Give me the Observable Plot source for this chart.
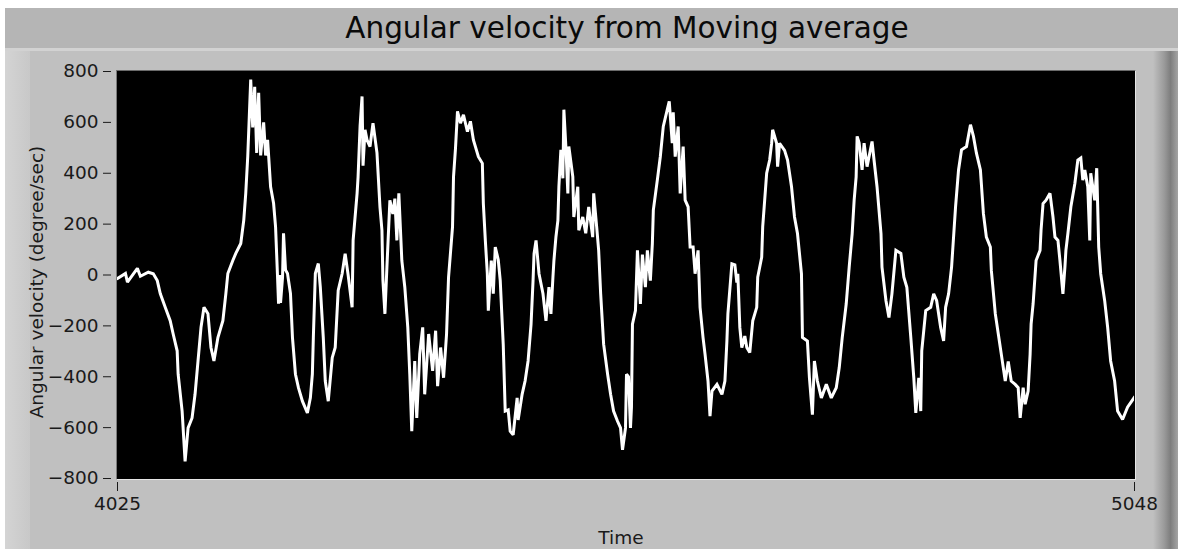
<!DOCTYPE html>
<html>
<head>
<meta charset="utf-8">
<script src="https://cdn.jsdelivr.net/npm/d3@7"></script>
<script src="https://cdn.jsdelivr.net/npm/@observablehq/plot@0.6"></script>
<style>
  html, body { margin: 0; padding: 0; background: #ffffff; }
  #wrap { position: relative; width: 1178px; height: 551px; overflow: hidden; font-family: "DejaVu Sans", sans-serif; }
  .abs { position: absolute; }
  #titlebar { left: 5px; top: 8px; width: 1173px; height: 40px; background: #b5b5b5; }
  #sep { left: 5px; top: 48px; width: 1173px; height: 3px; background: #d2d2d2; }
  #panel { left: 5px; top: 51px; width: 1173px; height: 498px; background: #c0c0c0; }
  #lstrip { left: 5px; top: 51px; width: 25px; height: 498px; background: linear-gradient(to right, #d4d4d4, #c8c8c8); }
  #redge { left: 1153px; top: 51px; width: 25px; height: 498px; background: linear-gradient(to right, #c0c0c0, #9a9a9a 45%, #7e7e7e 70%, #a4a4a4); }
  #well { left: 116px; top: 70px; width: 1018px; height: 408px; background: #000; border-top: 1px solid #6a6a6a; border-left: 1px solid #7a7a7a; border-right: 1px solid #e6e6e6; border-bottom: 1px solid #e6e6e6; box-sizing: content-box; }
  #title { left: 5px; top: 8px; width: 1244px; height: 40px; text-align: center; font-size: 29.5px; line-height: 40px; color: #0a0a0a; white-space: nowrap; }
  #ylabel { left: 36px; top: 282px; font-size: 18.5px; color: #1a1a1a; white-space: nowrap; transform: translate(-50%, -50%) rotate(-90deg); }
  #xlabel { left: 621px; top: 537px; font-size: 18.5px; color: #1a1a1a; white-space: nowrap; transform: translate(-50%, -50%); }
  #chart { left: 0; top: 0; }
</style>
</head>
<body>
<div id="wrap">
  <div class="abs" id="titlebar"></div>
  <div class="abs" id="sep"></div>
  <div class="abs" id="panel"></div>
  <div class="abs" id="lstrip"></div>
  <div class="abs" id="redge"></div>
  <div class="abs" id="well"></div>
  <div class="abs" id="title">Angular velocity from Moving average</div>
  <div class="abs" id="ylabel">Angular velocity (degree/sec)</div>
  <div class="abs" id="xlabel">Time</div>
  <div class="abs" id="chart"></div>
</div>
<script>
const time = [
  4025,4033,4035,4045,4048,4056,4061,4065,4068,4073,4078,4081,4085,4086,4090,4093,4096,4100,4103,4106,
  4109,4112,4116,4119,4122,4126,4131,4134,4136,4141,4144,4149,4152,4154,4156,4159,4161,4163,4165,4167,
  4169,4172,4174,4176,4179,4182,4184,4186,4187,4188,4189,4191,4192,4194,4196,4199,4201,4204,4207,4211,
  4216,4219,4221,4222,4224,4227,4229,4232,4234,4237,4241,4244,4247,4251,4254,4257,4261,4262,4266,4267,
  4269,4271,4272,4274,4276,4279,4282,4286,4289,4291,4292,4294,4296,4299,4302,4304,4306,4308,4311,4314,
  4317,4319,4321,4324,4326,4329,4332,4334,4338,4342,4345,4347,4350,4353,4356,4358,4362,4363,4365,4367,
  4370,4373,4377,4380,4383,4388,4392,4393,4395,4397,4398,4401,4403,4405,4408,4410,4413,4415,4418,4420,
  4423,4427,4428,4432,4435,4438,4441,4443,4444,4446,4449,4453,4456,4459,4461,4463,4464,4466,4468,4469,
  4471,4473,4474,4476,4478,4479,4483,4484,4488,4489,4493,4496,4499,4503,4504,4507,4509,4511,4514,4518,
  4521,4524,4528,4531,4533,4536,4537,4539,4541,4542,4543,4546,4548,4551,4553,4556,4558,4561,4563,4564,
  4568,4571,4574,4578,4580,4583,4584,4586,4589,4591,4594,4596,4599,4601,4604,4606,4609,4611,4614,4616,
  4619,4621,4623,4628,4633,4636,4638,4639,4643,4646,4648,4649,4651,4653,4656,4658,4661,4664,4668,4669,
  4673,4674,4676,4678,4681,4683,4684,4688,4689,4691,4696,4699,4703,4706,4709,4713,4714,4719,4721,4724,
  4726,4729,4733,4738,4743,4748,4751,4754,4758,4761,4764,4766,4768,4769,4771,4774,4776,4779,4784,4786,
  4789,4793,4794,4798,4801,4804,4808,4813,4816,4819,4823,4826,4828,4831,4833,4834,4838,4843,4846,4849,
  4853,4856,4858,4861,4864,4868,4871,4874,4879,4883,4886,4889,4893,4896,4899,4903,4904,4908,4911,4914,
  4918,4921,4924,4928,4931,4933,4936,4938,4941,4943,4944,4946,4949,4953,4954,4956,4959,4963,4966,4968,
  4971,4973,4976,4978,4979,4981,4984,4988,4991,4994,4996,4998,5001,5003,5004,5008,5010,5012,5014,5018,
  5021,5024,5028,5031,5036,5041,5048
];
const velocity = [
  -14,6,-28,26,-5,11,5,-22,-73,-127,-180,-232,-298,-390,-535,-733,-601,-562,-469,-338,
  -206,-127,-152,-285,-338,-246,-180,-73,6,57,85,124,215,321,465,768,580,740,480,716,
  470,600,470,531,347,282,189,-9,-113,0,-110,-10,164,20,6,-73,-246,-390,-443,-496,
  -542,-483,-390,-246,6,45,-48,-246,-417,-496,-325,-285,-61,6,84,0,-127,136,321,386,
  584,702,430,571,531,505,597,480,268,176,-22,-153,31,294,240,300,136,321,57,-48,
  -206,-390,-614,-338,-562,-311,-206,-469,-232,-377,-219,-437,-285,-404,-232,-9,189,386,499,643,
  597,630,564,604,531,465,439,281,136,6,-140,57,-73,110,60,-22,-272,-535,-530,-614,
  -628,-483,-570,-469,-417,-338,-193,-22,84,136,5,-74,-180,-48,-153,-9,57,149,215,347,
  492,380,650,505,321,505,386,228,347,176,228,164,268,149,321,189,97,-73,-272,-390,
  -469,-535,-575,-601,-687,-601,-390,-400,-601,-520,-193,-140,97,-114,80,-48,97,-22,123,255,
  373,465,584,650,683,518,640,465,584,321,505,294,268,110,110,5,97,-127,-246,-311,
  -417,-555,-456,-430,-469,-417,-259,-153,44,40,-30,5,-206,-285,-240,-285,-305,-180,-127,-9,
  70,189,294,400,452,518,571,518,426,518,490,452,347,228,163,5,-246,-260,-404,-549,
  -338,-417,-483,-430,-483,-443,-364,-246,-114,31,163,294,386,545,520,413,518,426,525,452,
  347,163,31,-101,-167,-74,97,85,-9,-48,-246,-404,-542,-404,-535,-298,-140,-127,-74,-101,
  -206,-259,-127,-74,31,268,413,492,505,591,545,479,413,242,149,110,18,-153,-232,-311,
  -417,-340,-417,-430,-443,-562,-443,-508,-456,-311,-193,-114,57,97,176,281,294,321,228,149,
  136,57,-74,31,97,163,268,360,452,460,373,413,347,136,400,294,420,110,5,-101,
  -206,-338,-417,-535,-568,-520,-480
];
const yTicks = [-800, -600, -400, -200, 0, 200, 400, 600, 800];
const xTicks = [4025, 5048];

const data = time.map((t, i) => ({t, v: velocity[i]}));

const chart = Plot.plot({
  width: 1178,
  height: 551,
  marginLeft: 117,
  marginRight: 44,
  marginTop: 71,
  marginBottom: 73,
  style: {background: "transparent", color: "#1a1a1a", fontFamily: "DejaVu Sans, sans-serif", fontSize: "18.5px", overflow: "visible"},
  x: {domain: [4025, 5048]},
  y: {domain: [-800, 800]},
  marks: [
    Plot.axisY(yTicks, {tickSize: 8, dx: -6, tickPadding: 5, label: null, fontSize: 18.5, stroke: "#1a1a1a"}),
    Plot.axisX(xTicks, {tickSize: 9, dy: 4, tickPadding: 5, label: null, tickFormat: d => String(d), fontSize: 18.5, stroke: "#1a1a1a"}),
    Plot.line(data, {x: "t", y: "v", stroke: "white", strokeWidth: 3, strokeLinejoin: "miter", strokeMiterlimit: 2, clip: true})
  ]
});
document.getElementById("chart").appendChild(chart);
</script>
</body>
</html>
